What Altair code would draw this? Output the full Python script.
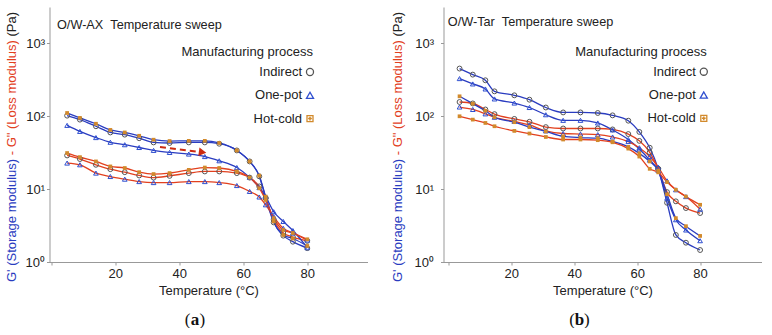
import altair as alt
import pandas as pd

PROCESSES = ["Indirect", "One-pot", "Hot-cold"]
MODULI = ["G'", 'G"']

# ---------------- Panel (a): O/W-AX ----------------
T_A = [5, 9, 14, 18.5, 23, 27.5, 32, 37, 43, 48, 52.5, 58, 62, 65, 67, 69.5, 72.5, 75.5, 80]
A_GP_IND = [102, 90, 73, 60, 56, 50, 43.8, 43, 43.8, 43.8, 42, 34, 24, 15, 7.6, 3.5, 2.3, 1.9, 1.55]
A_GP_ONE = [75, 62, 51, 44, 40.7, 37.3, 34, 31.9, 30.3, 28, 24.5, 19.8, 14.5, 10.5, 7.9, 4.9, 3.6, 2.7, 1.57]
A_GP_HOT = [111, 95, 79, 65, 60, 54, 47.7, 45.7, 46, 46, 43, 34, 24, 15.3, 7.9, 3.6, 2.35, 2.1, 1.66]
A_GPP_IND = [29, 25.9, 21.6, 18.8, 17.1, 15.4, 14.4, 15.2, 16.6, 17.5, 17.5, 16.6, 14.4, 10.9, 7.5, 3.8, 2.5, 2.2, 1.95]
A_GPP_ONE = [22.8, 21.6, 16.6, 14.9, 13.7, 12.7, 12.3, 12.3, 12.7, 12.7, 12.3, 11.2, 9.3, 7.8, 6.1, 4.2, 2.9, 2.5, 2.0]
A_GPP_HOT = [31.3, 27.5, 24, 20.5, 19.5, 17.1, 16.1, 16.6, 18.4, 19.8, 19.5, 17.5, 14.4, 10.3, 7.1, 4.0, 2.75, 2.5, 2.05]

# ---------------- Panel (b): O/W-Tar ----------------
T_B = [3.6, 7.8, 11.8, 14.7, 21, 25.8, 31, 36.5, 42, 47.5, 52.2, 57.2, 60.7, 64, 66.7, 69.5, 72.3, 75.5, 80]
B_GP_IND = [452, 373, 312, 220, 194, 169, 132, 113, 113, 111, 103, 87, 61, 37, 19, 6.5, 2.35, 1.84, 1.46]
B_GP_ONE = [329, 278, 237, 173, 152, 132, 105, 88, 88, 81, 65, 48, 35.5, 25, 18, 7.5, 3.8, 2.75, 1.96]
B_GP_HOT = [188, 149, 119, 97, 83, 71, 62, 53, 51, 50, 45, 38, 31, 24, 18, 8.5, 4.0, 3.1, 2.28]
B_GPP_IND = [157, 150, 124, 107, 92, 84, 71, 68, 68, 68, 66, 57, 46, 32, 19, 9.1, 6.8, 5.5, 4.7]
B_GPP_ONE = [134, 124, 108, 97, 85, 76, 63, 58, 57, 56, 52, 45, 37, 28, 20, 13, 9.8, 7.9, 5.3]
B_GPP_HOT = [100, 90, 81, 73, 63, 58, 52, 48, 48, 47, 44, 36, 28, 19, 17, 12.5, 9.8, 7.9, 6.1]

# dashed arrow annotation in panel (a) (temperature, modulus)
ARROW_T = [34.0, 45.9]
ARROW_V = [37.9, 32.6]
ARROW_HEAD_T = [47.3]
ARROW_HEAD_V = [32.0]

BLUE = "#2a3cc0"
RED = "#e2401e"
GREY = "#555555"
TRI = "#2f4fd0"
ORANGE = "#d28a2c"
ARROW_RED = "#cc2a10"
FONT = "Liberation Sans"


def long_df(T, gp, gpp):
    rows = []
    for proc, g1, g2 in zip(PROCESSES, gp, gpp):
        for t, v in zip(T, g1):
            rows.append({"T": t, "v": v, "process": proc, "modulus": "G'"})
        for t, v in zip(T, g2):
            rows.append({"T": t, "v": v, "process": proc, "modulus": 'G"'})
    return pd.DataFrame(rows)


DF_A = long_df(T_A, [A_GP_IND, A_GP_ONE, A_GP_HOT], [A_GPP_IND, A_GPP_ONE, A_GPP_HOT])
DF_B = long_df(T_B, [B_GP_IND, B_GP_ONE, B_GP_HOT], [B_GPP_IND, B_GPP_ONE, B_GPP_HOT])

W, H = 318, 255
ONE = alt.Data(values=[{}])


def txt(text, x, y, size=13, align="left", angle=0, color="#222222", weight="normal", font=FONT, baseline="middle"):
    return alt.Chart(ONE).mark_text(
        text=text, align=align, baseline=baseline, angle=angle, fontSize=size,
        color=color, fontWeight=weight, font=font
    ).encode(x=alt.value(x), y=alt.value(y))


def sym(shape, x, y, stroke, filled=False, size=55):
    if filled:
        return alt.Chart(ONE).mark_point(shape=shape, filled=True, color=stroke, size=size, opacity=1).encode(
            x=alt.value(x), y=alt.value(y))
    return alt.Chart(ONE).mark_point(shape=shape, filled=False, stroke=stroke, strokeWidth=1.3, size=size, opacity=1).encode(
        x=alt.value(x), y=alt.value(y))


def panel(df, xdom, title, label, title_pos, legend_pos, ytitle_x, label_x, lab_pad, arrow=False):
    X = alt.X("T:Q", scale=alt.Scale(domain=xdom, nice=False, zero=False),
              axis=alt.Axis(values=list(range(0, 100, 5)),
                            labelExpr="datum.value % 20 === 0 && datum.value > 0 ? datum.label : ''",
                            title="Temperature (°C)"))
    Y = alt.Y("v:Q", scale=alt.Scale(type="log", domain=[1, 3162.28], nice=False),
              axis=alt.Axis(values=[1, 10, 100, 1000], labelPadding=lab_pad,
                            labelExpr="datum.value >= 1000 ? '10³' : datum.value >= 100 ? '10²' : datum.value >= 10 ? '10¹' : '10⁰'",
                            title=""))
    base = alt.Chart(df)
    lines = base.mark_line(interpolate="monotone", strokeWidth=1.3).encode(
        x=X, y=Y,
        color=alt.Color("modulus:N", scale=alt.Scale(domain=MODULI, range=[BLUE, RED]), legend=None),
        detail="process:N")
    circ = base.transform_filter(alt.datum.process == "Indirect").mark_point(
        shape="circle", filled=False, stroke=GREY, strokeWidth=1, size=24, opacity=1).encode(x="T:Q", y="v:Q")
    tri = base.transform_filter(alt.datum.process == "One-pot").mark_point(
        shape="triangle-up", filled=False, stroke=TRI, strokeWidth=1, size=22, opacity=1).encode(x="T:Q", y="v:Q")
    sq = base.transform_filter(alt.datum.process == "Hot-cold").mark_point(
        shape="square", filled=True, color=ORANGE, size=14, opacity=1).encode(x="T:Q", y="v:Q")
    layers = [lines, circ, tri, sq]

    if arrow:
        adf = pd.DataFrame({"T": ARROW_T, "v": ARROW_V})
        hdf = pd.DataFrame({"T": ARROW_HEAD_T, "v": ARROW_HEAD_V})
        layers.append(alt.Chart(adf).mark_line(color=ARROW_RED, strokeWidth=2, strokeDash=[6, 4]).encode(x="T:Q", y="v:Q"))
        layers.append(alt.Chart(hdf).mark_point(shape="triangle-right", filled=True, color=ARROW_RED, size=75,
                                                angle=8, opacity=1).encode(x="T:Q", y="v:Q"))

    # title
    layers.append(txt(title, title_pos[0], title_pos[1], size=12.7))
    # legend
    lx, ly = legend_pos
    layers.append(txt("Manufacturing process", lx + 3, ly, align="right"))
    rows = [("Indirect", "circle", GREY), ("One-pot", "triangle-up", TRI), ("Hot-cold", "square", ORANGE)]
    for i, (name, shp, col) in enumerate(rows):
        yy = ly + 20 + i * 23.3
        layers.append(txt(name, lx - 8, yy, align="right"))
        layers.append(sym(shp, lx, yy, col, size=50 if shp != "square" else 36))
        if name == "Hot-cold":
            layers.append(sym("cross", lx, yy, col, filled=True, size=14))
    # coloured y-axis title (rotated, read bottom to top)
    layers.append(txt("G' (Storage modulus)", ytitle_x, 275, angle=270, color=BLUE))
    layers.append(txt('- G" (Loss modulus)', ytitle_x, 148.3, angle=270, color=RED))
    layers.append(txt("(Pa)", ytitle_x, 29.6, angle=270, color="#222222"))
    # panel label: "(" regular, letter bold, ")" regular
    layers.append(txt("(", label_x - 4.6, 313, size=17, align="right", font="Liberation Serif", color="#111111"))
    layers.append(txt(label, label_x, 313, size=17, align="center", weight="bold", font="Liberation Serif", color="#111111"))
    layers.append(txt(")", label_x + 4.6, 313, size=17, align="left", font="Liberation Serif", color="#111111"))

    return alt.layer(*layers).properties(width=W, height=H)


left = panel(DF_A, [-0.5, 98.8], "O/W-AX\u00a0\u00a0Temperature sweep", "a",
             (7.5, 18), (260.5, 45), -37.5, 145.5, 2, arrow=True)
right = panel(DF_B, [-1.5, 99.5], "O/W-Tar\u00a0\u00a0Temperature sweep", "b",
              (4.3, 15), (260.3, 44.7), -45.7, 136, 7)

chart = alt.hconcat(left, right, spacing=24).properties(
    padding={"left": 5.5, "top": 7, "right": 0, "bottom": 0}
).configure_view(stroke=None).configure_axis(
    domainColor="#999999", tickColor="#999999", labelColor="#222222", titleColor="#222222",
    labelFont=FONT, titleFont=FONT, labelFontSize=13, titleFontSize=13, titleFontWeight="normal",
    tickSize=3, grid=False
)

chart.save("out.html", embed_options={"renderer": "svg", "actions": False})
